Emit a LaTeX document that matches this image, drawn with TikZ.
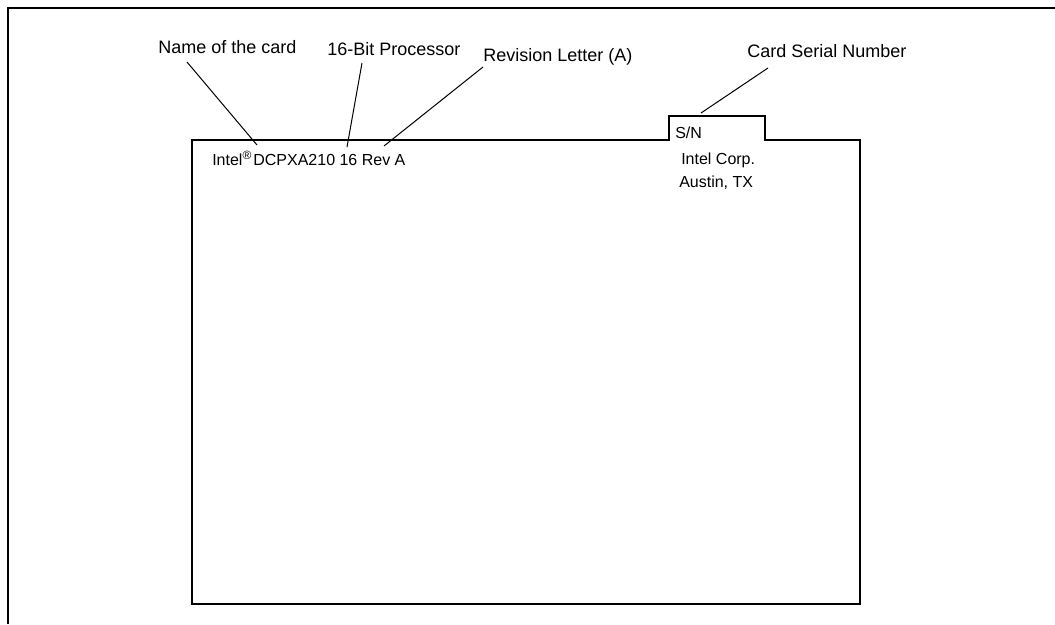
\documentclass[tikz,border=0pt]{standalone}
\usepackage{fontspec}
\setmainfont{Liberation Sans}
\begin{document}
\begin{tikzpicture}[x=0.75pt,y=-0.75pt,
  lbl/.style={inner sep=0pt,anchor=base west,font=\fontsize{13.5}{16}\selectfont},
  cardtxt/.style={inner sep=0pt,anchor=base west,font=\fontsize{12}{14}\selectfont},
  frame/.style={line width=1.7pt},
  cardline/.style={line width=1.5pt,line join=miter},
  leader/.style={line width=0.75pt}]
\useasboundingbox (0,0) rectangle (1055,624);
% outer frame (top and left edges)
\draw[frame] (7.8,624) -- (7.8,7.8) -- (1055,7.8);
% card outline with tab
\draw[cardline] (192,140) -- (668.5,140) -- (668.5,116) -- (765,116) -- (765,140)
  -- (860,140) -- (860,603.5) -- (192,603.5) -- cycle;
% labels
\node[lbl] (name) at (158,54) {Name of the card};
\node[lbl] (proc) at (327,56) {16-Bit Processor};
\node[lbl] (rev) at (483,62) {Revision Letter (A)};
\node[lbl] (sn) at (747,58) {Card Serial Number};
% card texts
\node[cardtxt] (intel) at (212,166) {Intel\raisebox{0.42em}{\fontsize{9}{9}\selectfont ®}\kern1.5pt DCPXA210 16 Rev A};
\node[cardtxt] (snt) at (675,138) {S/N};
\node[cardtxt] (corp) at (681,165) {Intel Corp.};
\node[cardtxt] (aus) at (679,187) {Austin, TX};
% leader ends
\coordinate (n1) at (187,62);   \coordinate (n2) at (257,145);
\coordinate (p1) at (362,63);   \coordinate (p2) at (347,147);
\coordinate (r1) at (483,67);   \coordinate (r2) at (384,146);
\coordinate (s1) at (768,68);   \coordinate (s2) at (701,113);
\draw[leader] (n1) -- (n2);
\draw[leader] (p1) -- (p2);
\draw[leader] (r1) -- (r2);
\draw[leader] (s1) -- (s2);
\end{tikzpicture}
\end{document}
